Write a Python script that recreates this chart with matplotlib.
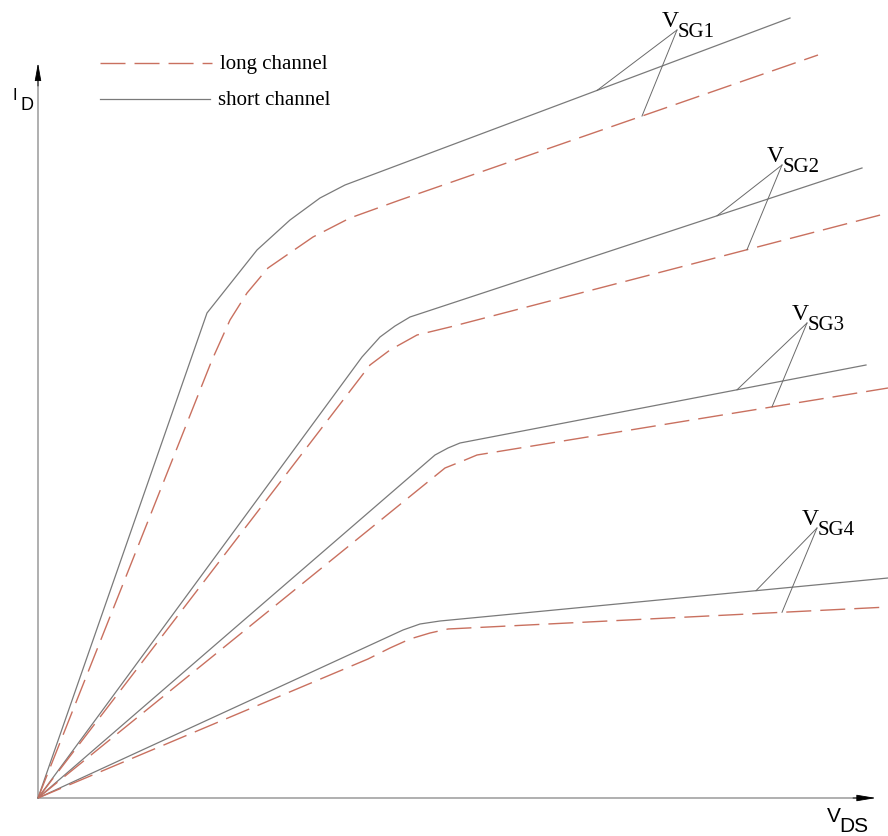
import numpy as np
import matplotlib
matplotlib.use('Agg')
import matplotlib.pyplot as plt

# I_D - V_DS curves, long channel vs short channel (arbitrary units)
gate_labels = ['SG1', 'SG2', 'SG3', 'SG4']

short_vds = [[0, 169, 219, 252, 282, 307, 752],
             [0, 324, 342, 357, 372, 824],
             [0, 397, 410, 422, 828],
             [0, 365, 382, 402, 850]]
short_id = [[0, 485, 548, 578, 600, 613, 780],
            [0, 441, 461, 472, 481, 630],
            [0, 343, 350, 355, 433],
            [0, 168, 174, 177, 220]]

long_vds = [[0, 174, 192, 209, 230, 275, 312, 362, 780],
            [0, 332, 352, 379, 412, 850],
            [0, 407, 427, 439, 850],
            [0, 330, 352, 372, 392, 410, 850]]
long_id = [[0, 438, 478, 505, 530, 561, 580, 598, 743],
           [0, 433, 448, 463, 471, 585],
           [0, 330, 338, 343, 410],
           [0, 139, 150, 159, 165, 169, 191]]

# where the label leaders meet the curves
short_tap = [559, 679, 699, 718]
long_tap = [604, 709, 734, 744]
# label anchor (meeting point of the two leaders)
label_vds = [639, 744, 769, 779]
label_id = [768, 633, 475, 270]

SOLID = '#7a7a7a'
DASH = '#c9705f'

fig = plt.figure(figsize=(8.88, 8.36), dpi=100)
ax = fig.add_axes([0, 0, 1, 1])
ax.set_xlim(-38, 850)
ax.set_ylim(-38, 798)
ax.axis('off')

# axes with arrow heads
ax.plot([0, 830], [0, 0], color='#9a9a9a', lw=1.1, solid_capstyle='butt')
ax.plot([0, 0], [0, 728], color='#9a9a9a', lw=1.1, solid_capstyle='butt')
ax.annotate('', xy=(838, 0), xytext=(815, 0),
            arrowprops=dict(arrowstyle='-|>,head_length=1.2,head_width=0.2',
                            color='black', lw=0.6, shrinkA=0, shrinkB=0))
ax.annotate('', xy=(0, 735), xytext=(0, 712),
            arrowprops=dict(arrowstyle='-|>,head_length=1.1,head_width=0.2',
                            color='black', lw=0.6, shrinkA=0, shrinkB=0))

for i in range(4):
    ax.plot(short_vds[i], short_id[i], color=SOLID, lw=0.9)
    ax.plot(long_vds[i], long_id[i], color=DASH, lw=1.0, dashes=(18, 6.5))

    # leaders from label to each curve
    ys = np.interp(short_tap[i], short_vds[i], short_id[i])
    yl = np.interp(long_tap[i], long_vds[i], long_id[i])
    ax.plot([label_vds[i], short_tap[i]], [label_id[i], ys], color='#6a6a6a', lw=0.7)
    ax.plot([label_vds[i], long_tap[i]], [label_id[i], yl], color='#6a6a6a', lw=0.7)

    # V_SGn label
    ax.text(label_vds[i] + 2, label_id[i] + 3, 'V', ha='right', va='baseline',
            fontsize=17, family='Liberation Serif')
    ax.text(label_vds[i] + 1, label_id[i] - 7, gate_labels[i], ha='left',
            va='baseline', fontsize=15, family='Liberation Serif')

# legend drawn by hand
ax.plot([62, 174], [735, 735], color=DASH, lw=1.0, dashes=(18, 6.5))
ax.plot([62, 172], [699, 699], color=SOLID, lw=0.9)
ax.text(182, 729, 'long channel', fontsize=15, family='Liberation Serif', va='baseline')
ax.text(180, 693, 'short channel', fontsize=15, family='Liberation Serif', va='baseline')

# axis labels
ax.text(-25, 698, 'I', fontsize=12, family='Liberation Sans', va='baseline')
ax.text(-18, 688, 'D', fontsize=13, family='Liberation Sans', va='baseline')
ax.text(789, -24, 'V', fontsize=15, family='Liberation Sans', va='baseline')
ax.text(801, -34, 'DS', fontsize=15, family='Liberation Sans', va='baseline')

fig.savefig('out.png', dpi=100)
